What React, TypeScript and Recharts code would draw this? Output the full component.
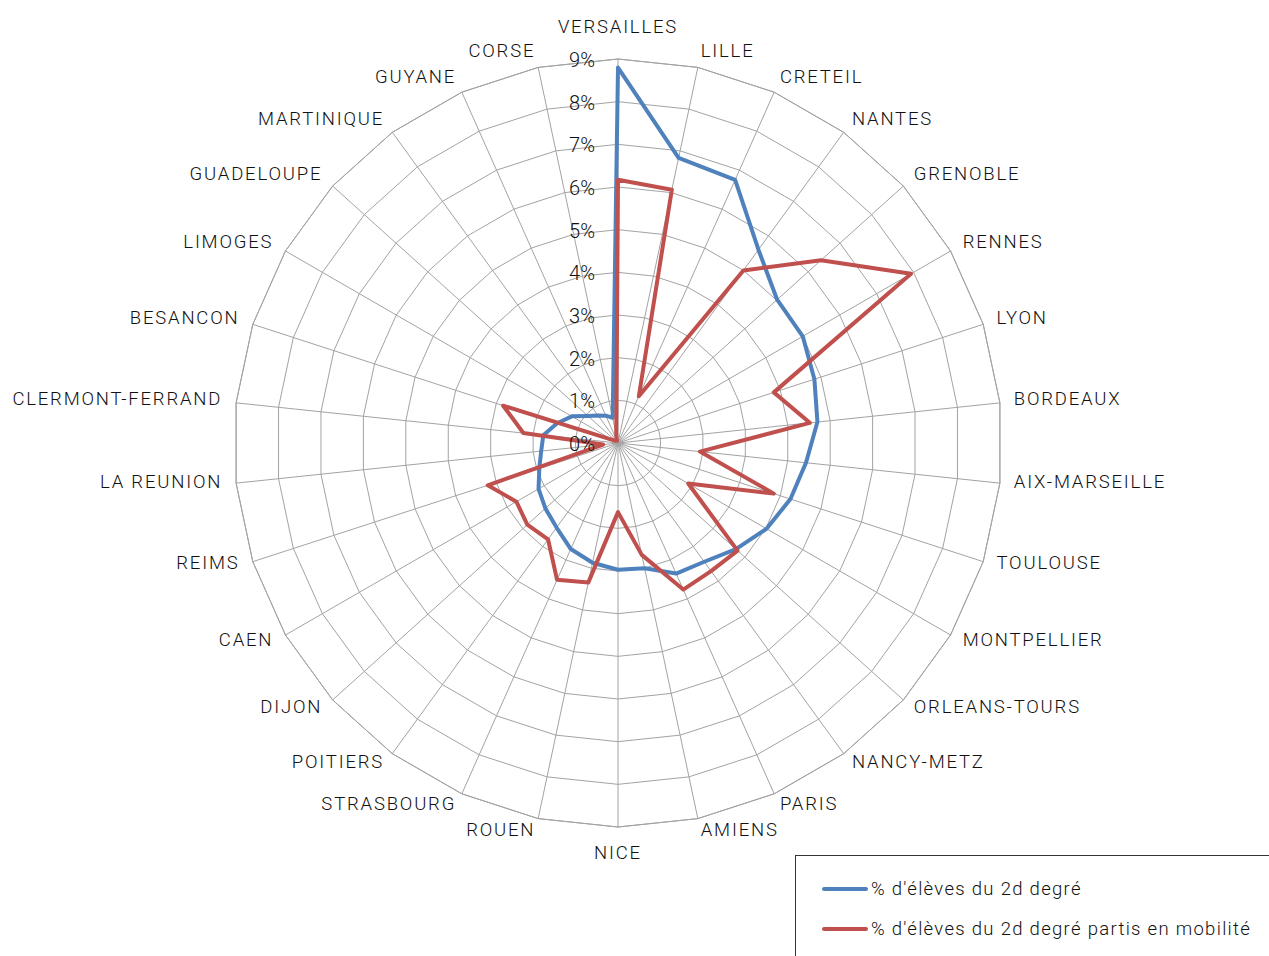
import {
  RadarChart,
  PolarGrid,
  PolarAngleAxis,
  PolarRadiusAxis,
  Radar,
  Legend,
} from "recharts";

// Académies, ordonnées par part d'élèves décroissante
const academies = [
  "VERSAILLES", "LILLE", "CRETEIL", "NANTES", "GRENOBLE", "RENNES", "LYON",
  "BORDEAUX", "AIX-MARSEILLE", "TOULOUSE", "MONTPELLIER", "ORLEANS-TOURS",
  "NANCY-METZ", "PARIS", "AMIENS", "NICE", "ROUEN", "STRASBOURG", "POITIERS",
  "DIJON", "CAEN", "REIMS", "LA REUNION", "CLERMONT-FERRAND", "BESANCON",
  "LIMOGES", "GUADELOUPE", "MARTINIQUE", "GUYANE", "CORSE",
];

// % d'élèves du 2d degré
const partEleves = [
  8.8, 6.83, 6.75, 5.6, 5.02, 5.0, 4.84, 4.7, 4.43, 4.25, 4.02, 3.72, 3.44,
  3.35, 3.0, 2.97, 2.87, 2.72, 2.45, 2.29, 2.15, 1.94, 1.81, 1.76, 1.5, 1.25,
  0.95, 0.8, 0.7, 0.6,
];

// % d'élèves du 2d degré partis en mobilité
const partMobilite = [
  6.17, 6.07, 1.2, 5.0, 6.4, 7.93, 3.84, 4.52, 1.93, 3.84, 1.9, 3.77, 3.71,
  3.76, 2.68, 1.62, 3.34, 3.51, 2.79, 2.86, 2.75, 3.21, 0.35, 2.23, 2.83,
  0.15, 0.08, 0.08, 0.06, 0.2,
];

const LABEL_ELEVES = "% d'élèves du 2d degré";
const LABEL_MOBILITE = "% d'élèves du 2d degré partis en mobilité";

const COLORS = {
  eleves: "#4f81bd",
  mobilite: "#c0504d",
  grid: "#a3a3a3",
  text: "#111111",
};

const FONT = "Roboto, 'DejaVu Sans', sans-serif";

const data = academies.map((academie, i) => ({
  academie,
  eleves: partEleves[i],
  mobilite: partMobilite[i],
}));

function AngleTick(props: any) {
  const { x, y, payload } = props;
  const rad = (payload.coordinate * Math.PI) / 180;
  const horiz = Math.cos(rad);
  const vert = Math.sin(rad);
  let anchor: "start" | "end" | "middle" = "middle";
  let ty = y - 2.5;
  if (Math.abs(horiz) < 1e-6) {
    ty = vert > 0 ? y - 18 : y + 12;
  } else {
    anchor = horiz > 0 ? "start" : "end";
  }
  return (
    <text
      x={x}
      y={ty}
      textAnchor={anchor}
      dominantBaseline="central"
      fill={COLORS.text}
      fontFamily={FONT}
      fontWeight={300}
      fontSize={18.5}
      letterSpacing={1.8}
    >
      {payload.value}
    </text>
  );
}

function RadiusTick(props: any) {
  const { x, y, payload } = props;
  return (
    <text
      x={x - 23}
      y={y + 1}
      textAnchor="end"
      dominantBaseline="central"
      fill={COLORS.text}
      fontFamily={FONT}
      fontWeight={300}
      fontSize={20}
    >
      {`${payload.value}%`}
    </text>
  );
}

function LegendBox(props: any) {
  const items = props.payload || [];
  return (
    <div
      style={{
        width: 480,
        height: 110,
        border: "1px solid #333",
        boxSizing: "border-box",
        background: "#fff",
        fontFamily: FONT,
        fontWeight: 300,
        fontSize: 18.5,
        letterSpacing: 1.3,
        color: COLORS.text,
        paddingTop: 13,
        paddingLeft: 26,
      }}
    >
      {items.map((item: any) => (
        <div
          key={item.value}
          style={{ display: "flex", alignItems: "center", height: 40 }}
        >
          <span
            style={{
              display: "inline-block",
              width: 46,
              height: 4.5,
              borderRadius: 2,
              background: item.color,
              marginRight: 3,
            }}
          />
          <span>{item.value}</span>
        </div>
      ))}
    </div>
  );
}

export default function App() {
  return (
    <div
      style={{
        position: "absolute",
        left: 0,
        top: 0,
        width: 1269,
        height: 956,
        overflow: "hidden",
        background: "#fff",
      }}
    >
      <RadarChart
        width={1269}
        height={956}
        data={data}
        cx={618}
        cy={443}
        outerRadius={384}
        margin={{ top: 0, right: 0, bottom: 0, left: 0 }}
      >
        <PolarGrid stroke={COLORS.grid} strokeWidth={1} />
        <PolarAngleAxis dataKey="academie" tick={AngleTick} tickSize={14} tickLine={false} axisLine={{ stroke: COLORS.grid }} />
        <Radar
          name={LABEL_ELEVES}
          dataKey="eleves"
          stroke={COLORS.eleves}
          strokeWidth={4}
          strokeLinejoin="round"
          fill="none"
          fillOpacity={0}
          dot={false}
          isAnimationActive={false}
        />
        <Radar
          name={LABEL_MOBILITE}
          dataKey="mobilite"
          stroke={COLORS.mobilite}
          strokeWidth={4}
          strokeLinejoin="round"
          fill="none"
          fillOpacity={0}
          dot={false}
          isAnimationActive={false}
        />
        <PolarRadiusAxis
          angle={90}
          domain={[0, 9]}
          tickCount={10}
          axisLine={false}
          tick={RadiusTick}
        />
        <Legend
          content={LegendBox}
          wrapperStyle={{ position: "absolute", left: 795, top: 855, width: 480, height: 110 }}
        />
      </RadarChart>
    </div>
  );
}
